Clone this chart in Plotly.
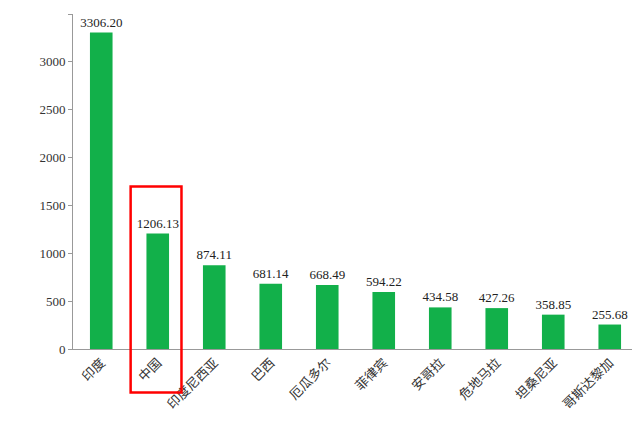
import plotly.graph_objects as go

countries = ["印度", "中国", "印度尼西亚", "巴西", "厄瓜多尔", "菲律宾", "安哥拉", "危地马拉", "坦桑尼亚", "哥斯达黎加"]
values = [3306.20, 1206.13, 874.11, 681.14, 668.49, 594.22, 434.58, 427.26, 358.85, 255.68]
labels = [f"{v:.2f}" for v in values]

fig = go.Figure(go.Bar(
    x=countries, y=values, text=labels, textposition="outside", textangle=0,
    textfont=dict(family="Liberation Serif", size=13, color="#222"),
    marker=dict(color="#12b04a", line=dict(width=0)), width=0.4, cliponaxis=False))

fig.add_shape(type="rect", xref="x", yref="paper", x0=0.52, x1=1.42, y0=-0.13, y1=0.485,
              line=dict(color="red", width=2.5))

fig.update_layout(
    width=640, height=429, plot_bgcolor="white", paper_bgcolor="white",
    margin=dict(l=65, r=10, t=6, b=88), showlegend=False,
    uniformtext=dict(minsize=13, mode="show"),
    font=dict(family="Noto Sans CJK SC", size=13, color="#333"),
    xaxis=dict(showline=True, linecolor="#999", tickangle=-45, ticks=""),
    yaxis=dict(range=[0, 3500], dtick=500, showline=True, linecolor="#999", showgrid=False,
               ticks="outside", ticklen=4, tickcolor="#999",
               tickfont=dict(family="Liberation Serif", size=13)))
fig.write_html("out.html")
